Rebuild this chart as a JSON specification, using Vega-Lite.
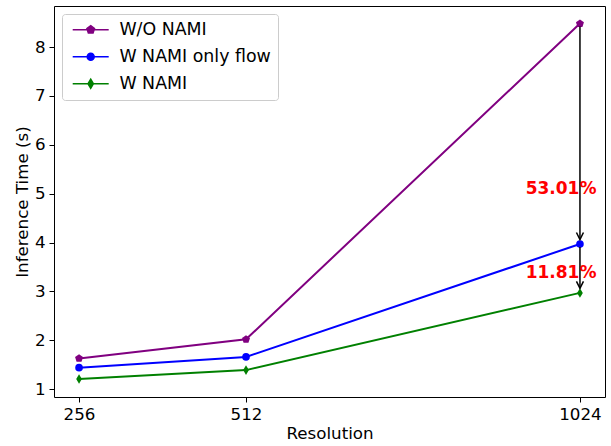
{
  "$schema": "https://vega.github.io/schema/vega-lite/v6.json",
  "width": 551,
  "height": 391,
  "autosize": {"type": "none"},
  "padding": {"left": 54, "top": 6, "right": 6, "bottom": 49},
  "background": "white",
  "config": {
    "font": "DejaVu Sans",
    "view": {"stroke": "black", "strokeWidth": 1},
    "axis": {
      "grid": false, "domain": false,
      "tickColor": "black", "tickSize": 5, "tickWidth": 1,
      "labelFontSize": 16.7, "labelColor": "black", "labelFont": "DejaVu Sans", "labelPadding": 4,
      "titleFont": "DejaVu Sans", "titleFontSize": 16.7, "titleFontWeight": "normal", "titleColor": "black"
    }
  },
  "datasets": {
    "perf": [
      {"method": "W/O NAMI", "resolution": 256, "time": 1.63},
      {"method": "W/O NAMI", "resolution": 512, "time": 2.02},
      {"method": "W/O NAMI", "resolution": 1024, "time": 8.48},
      {"method": "W NAMI only flow", "resolution": 256, "time": 1.44},
      {"method": "W NAMI only flow", "resolution": 512, "time": 1.66},
      {"method": "W NAMI only flow", "resolution": 1024, "time": 3.97},
      {"method": "W NAMI", "resolution": 256, "time": 1.21},
      {"method": "W NAMI", "resolution": 512, "time": 1.39},
      {"method": "W NAMI", "resolution": 1024, "time": 2.97}
    ],
    "arrows": [
      {"resolution": 1024, "from": 8.48, "to": 3.97},
      {"resolution": 1024, "from": 3.97, "to": 2.97}
    ],
    "notes": [
      {"resolution": 995, "time": 5.09, "label": "53.01%"},
      {"resolution": 995, "time": 3.38, "label": "11.81%"}
    ]
  },
  "encoding": {
    "x": {"type": "quantitative", "title": "Resolution",
          "scale": {"domain": [217.6, 1062.4], "nice": false, "zero": false},
          "axis": {"values": [256, 512, 1024], "format": "d", "titlePadding": 3}},
    "y": {"type": "quantitative", "title": "Inference Time (s)",
          "scale": {"domain": [0.84, 8.84], "nice": false, "zero": false},
          "axis": {"values": [1, 2, 3, 4, 5, 6, 7, 8], "titlePadding": 3}}
  },
  "layer": [
    {
      "data": {"name": "perf"},
      "mark": {"type": "line", "strokeWidth": 2},
      "encoding": {
        "x": {"field": "resolution"},
        "y": {"field": "time"},
        "color": {
          "field": "method", "type": "nominal",
          "scale": {"domain": ["W/O NAMI", "W NAMI only flow", "W NAMI"], "range": ["#800080", "#0000ff", "#008000"]},
          "legend": {
            "title": null, "orient": "top-left", "offset": 8, "padding": 7, "rowPadding": 8,
            "symbolSize": 100, "symbolOffset": 13, "labelOffset": 20,
            "labelFontSize": 17.4, "labelFont": "DejaVu Sans", "labelColor": "black",
            "strokeColor": "#cccccc", "fillColor": "white", "cornerRadius": 3,
            "encode": {
              "symbols": {
                "update": {
                  "shape": {"signal": "datum.value === 'W/O NAMI' ? 'M-3.6,0L3.6,0M0,-0.8L0.761,-0.247L0.47,0.647L-0.47,0.647L-0.761,-0.247Z' : (datum.value === 'W NAMI only flow' ? 'M-3.6,0L3.6,0M0.7,0A0.7,0.7,0,1,1,-0.7,0A0.7,0.7,0,1,1,0.7,0Z' : 'M-3.6,0L3.6,0M0,-0.9L0.54,0L0,0.9L-0.54,0Z')"},
                  "fill": {"scale": "color", "field": "value"},
                  "stroke": {"scale": "color", "field": "value"},
                  "strokeWidth": {"value": 1.5},
                  "opacity": {"value": 1},
                  "fillOpacity": {"value": 1},
                  "strokeOpacity": {"value": 1}
                }
              }
            }
          }
        }
      }
    },
    {
      "data": {"name": "perf"},
      "transform": [{"filter": "datum.method === 'W/O NAMI'"}],
      "mark": {"type": "point", "filled": true, "opacity": 1, "size": 58, "color": "#800080",
               "shape": "M0,-1.1L1.046,-0.34L0.647,0.89L-0.647,0.89L-1.046,-0.34Z"},
      "encoding": {"x": {"field": "resolution"}, "y": {"field": "time"}}
    },
    {
      "data": {"name": "perf"},
      "transform": [{"filter": "datum.method === 'W NAMI only flow'"}],
      "mark": {"type": "point", "filled": true, "opacity": 1, "size": 58, "color": "#0000ff", "shape": "circle"},
      "encoding": {"x": {"field": "resolution"}, "y": {"field": "time"}}
    },
    {
      "data": {"name": "perf"},
      "transform": [{"filter": "datum.method === 'W NAMI'"}],
      "mark": {"type": "point", "filled": true, "opacity": 1, "size": 58, "color": "#008000",
               "shape": "M0,-1.25L0.75,0L0,1.25L-0.75,0Z"},
      "encoding": {"x": {"field": "resolution"}, "y": {"field": "time"}}
    },
    {
      "data": {"name": "arrows"},
      "mark": {"type": "rule", "color": "black", "strokeWidth": 1.5, "yOffset": 3, "y2Offset": -4.5},
      "encoding": {
        "x": {"field": "resolution"},
        "y": {"field": "from"},
        "y2": {"field": "to"}
      }
    },
    {
      "data": {"name": "arrows"},
      "mark": {"type": "point", "shape": "M-1,-2L0,0L1,-2", "filled": false, "stroke": "black", "strokeWidth": 1.5, "size": 49, "opacity": 1, "yOffset": -4.5},
      "encoding": {
        "x": {"field": "resolution"},
        "y": {"field": "to"}
      }
    },
    {
      "data": {"name": "notes"},
      "mark": {"type": "text", "color": "red", "fontWeight": "bold", "fontSize": 17, "font": "DejaVu Sans", "align": "center", "baseline": "middle"},
      "encoding": {
        "x": {"field": "resolution"},
        "y": {"field": "time"},
        "text": {"field": "label"}
      }
    }
  ]
}
